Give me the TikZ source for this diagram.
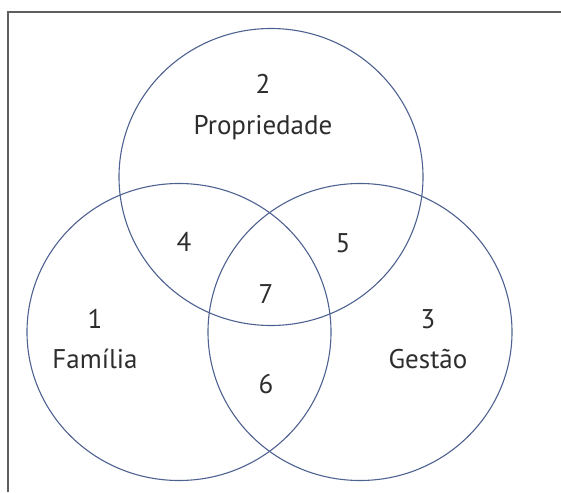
\documentclass[tikz,border=0pt]{standalone}
\usepackage{fontspec}
\setmainfont{PT Sans}
\usetikzlibrary{shapes.geometric}
\definecolor{ringcol}{RGB}{78,98,145}
\definecolor{txtcol}{RGB}{45,45,45}
\definecolor{framecol}{RGB}{95,95,95}
\tikzset{
  ring/.style={draw=ringcol, line width=1.1pt, ellipse, minimum width=304pt, minimum height=297pt, inner sep=0pt},
  lab/.style={text=txtcol, font=\fontsize{27}{31}\selectfont, anchor=base, inner sep=0pt},
}
\begin{document}
\begin{tikzpicture}[x=1pt,y=-1pt]
\useasboundingbox (0,0) rectangle (561,492);
\draw[framecol, line width=1.4pt] (8,492) -- (8,12) -- (561,12);
\node[ring] (prop) at (271,177) {};
\node[ring] (fam) at (179,332) {};
\node[ring] (ges) at (360,332) {};
\node[lab] (n2) at (263,93) {2};
\node[lab] (t2) at (263,134) {Propriedade};
\node[lab] (n1) at (95,328) {1};
\node[lab] (t1) at (95,368) {Família};
\node[lab] (n3) at (428,328) {3};
\node[lab] (t3) at (428,368) {Gestão};
\node[lab] (n4) at (184,251) {4};
\node[lab] (n5) at (343,252) {5};
\node[lab] (n7) at (266,303) {7};
\node[lab] (n6) at (266,393) {6};
\end{tikzpicture}
\end{document}
